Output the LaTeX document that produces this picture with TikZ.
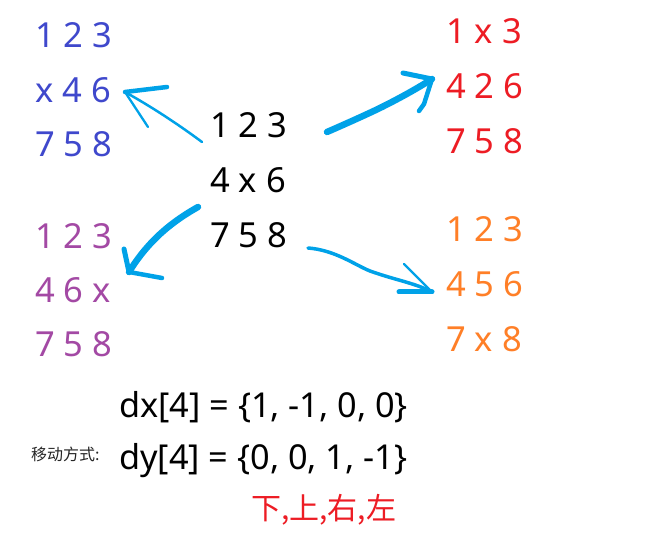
\documentclass[tikz,border=0pt]{standalone}
\usepackage{fontspec}
\setmainfont{Noto Sans}
\newfontfamily\cjk{Noto Sans CJK SC}
\definecolor{cblue}{HTML}{3F48CC}
\definecolor{cred}{HTML}{ED1C24}
\definecolor{corange}{HTML}{FF7F27}
\definecolor{cpurple}{HTML}{A349A4}
\definecolor{carrow}{HTML}{00A2E8}
\newcommand{\gridfont}{\fontsize{34.5}{40}\selectfont}
\begin{document}
\begin{tikzpicture}[x=1pt,y=-1pt,
  cell/.style={font=\gridfont, anchor=base west, inner sep=0pt},
  code/.style={font=\fontsize{34.3}{40}\selectfont, anchor=base west, inner sep=0pt},
  stroke/.style={draw=carrow, line cap=round, line join=round},
]
\fill[white] (0,0) rectangle (646,537);
\useasboundingbox (0,0) rectangle (646,537);
% blue grid (left)
\node[cell, text=cblue] (b1) at (35,48) {1 2 3};
\node[cell, text=cblue] (b2) at (35,103) {x 4 6};
\node[cell, text=cblue] (b3) at (35,157) {7 5 8};
% black grid (centre)
\node[cell] (m1) at (210,138) {1 2 3};
\node[cell] (m2) at (210,193) {4 x 6};
\node[cell] (m3) at (210,248) {7 5 8};
% red grid (right top)
\node[cell, text=cred] (r1) at (446,44) {1 x 3};
\node[cell, text=cred] (r2) at (446,99) {4 2 6};
\node[cell, text=cred] (r3) at (446,154) {7 5 8};
% orange grid (right bottom)
\node[cell, text=corange] (o1) at (446,242) {1 2 3};
\node[cell, text=corange] (o2) at (446,297) {4 5 6};
\node[cell, text=corange] (o3) at (446,352) {7 x 8};
% purple grid (left bottom)
\node[cell, text=cpurple] (p1) at (35,249) {1 2 3};
\node[cell, text=cpurple] (p2) at (35,303) {4 6 x};
\node[cell, text=cpurple] (p3) at (35,357) {7 5 8};
% code
\node[code] (dx) at (119,418) {dx[4] = \{1, -1, 0, 0\}};
\node[code] (dy) at (119,470) {dy[4] = \{0, 0, 1, -1\}};
\node[font=\cjk\fontsize{16}{18}\selectfont, text=black!85, anchor=base west, inner sep=0pt] (lab) at (31,461) {移动方式:};
\node[font=\cjk\fontsize{30}{34}\selectfont, text=cred, anchor=base west, inner sep=0pt] (dir) at (251,520) {下,上,右,左};
% arrow coordinates
\coordinate (a1s) at (202,142); \coordinate (a1e) at (125,92);
\coordinate (a2s) at (327,132); \coordinate (a2e) at (432,79);
\coordinate (a3s) at (198,207); \coordinate (a3e) at (129,272);
\coordinate (a4s) at (308,248); \coordinate (a4e) at (432,292);
% arrow 1: to blue
\draw[stroke, line width=2.5pt] (a1s) .. controls (175,122) and (150,106) .. (a1e);
\draw[stroke, line width=4.5pt] (a1e) -- (167,87);
\draw[stroke, line width=2.3pt] (a1e) -- (148,127);
% arrow 2: to red
\draw[stroke, line width=6.5pt] (a2s) .. controls (350,122) and (372,112) .. (382,107)
  .. controls (400,98) and (418,88) .. (a2e);
\draw[stroke, line width=5pt] (403,73) -- (a2e);
\draw[stroke, line width=4.5pt] (a2e) -- (424,104) -- (419,111);
% arrow 3: to purple
\draw[stroke, line width=6.5pt] (a3s) .. controls (175,220) and (150,238) .. (a3e);
\draw[stroke, line width=5pt] (124,249) -- (a3e);
\draw[stroke, line width=4.5pt] (a3e) -- (162,278);
% arrow 4: to orange
\draw[stroke, line width=3.5pt] (a4s) .. controls (335,250) and (355,265) .. (370,271)
  .. controls (395,280) and (415,283) .. (a4e);
\draw[stroke, line width=2.3pt] (404,264) -- (a4e);
\draw[stroke, line width=5pt] (399,292) -- (a4e);
\end{tikzpicture}
\end{document}
